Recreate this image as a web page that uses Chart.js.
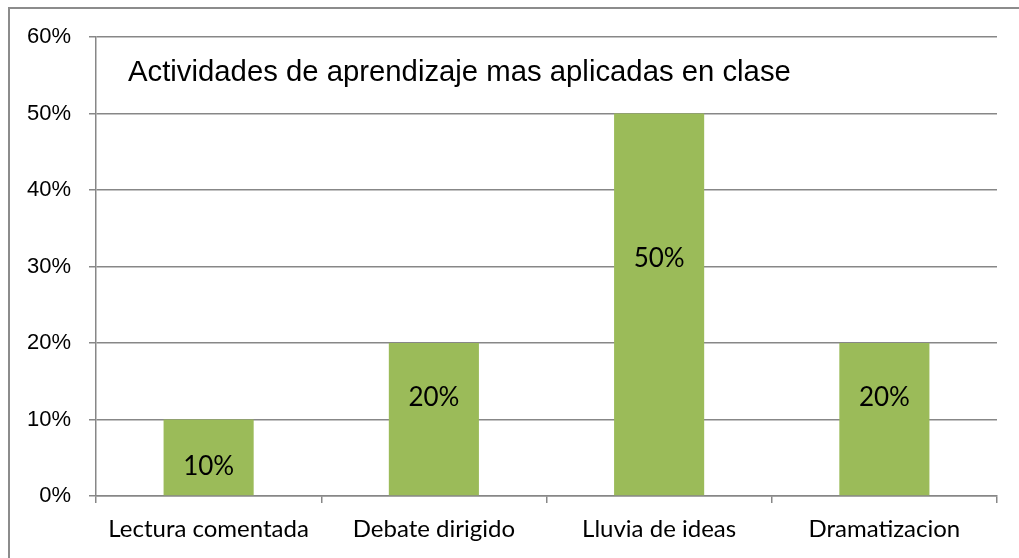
<!DOCTYPE html>
<html>
<head>
<meta charset="utf-8">
<script src="https://cdn.jsdelivr.net/npm/chart.js@4"></script>
<style>
html,body{margin:0;padding:0;background:#fff;}
#wrap{position:relative;width:1019px;height:558px;}
</style>
</head>
<body>
<div id="wrap"><canvas id="c" width="1019" height="558"></canvas></div>
<script>
const categories = ["Lectura comentada", "Debate dirigido", "Lluvia de ideas", "Dramatizacion"];
const values = [10, 20, 50, 20];
const yTicks = [0, 10, 20, 30, 40, 50, 60];
const chartTitle = "Actividades de aprendizaje mas aplicadas en clase";

const GRID = '#878787';

const decor = {
  id: 'decor',
  beforeDraw(chart) {
    const ctx = chart.ctx;
    ctx.save();
    ctx.fillStyle = '#fff';
    ctx.fillRect(0, 0, chart.width, chart.height);
    ctx.strokeStyle = '#8c8c8c';
    ctx.lineWidth = 2;
    ctx.beginPath();
    ctx.moveTo(9, chart.height + 5);
    ctx.lineTo(9, 8);
    ctx.lineTo(chart.width + 5, 8);
    ctx.stroke();
    ctx.restore();
  },
  afterDatasetsDraw(chart, args, opts) {
    const ctx = chart.ctx;
    const meta = chart.getDatasetMeta(0);
    const y = chart.scales.y;
    ctx.save();
    ctx.fillStyle = '#000';
    ctx.font = '26px Lato, "Open Sans", sans-serif';
    ctx.textAlign = 'center';
    ctx.textBaseline = 'middle';
    meta.data.forEach((bar, i) => {
      const v = values[i];
      const yy = y.getPixelForValue(v * opts.fractions[i]);
      ctx.fillText(v + '%', bar.x, yy);
    });
    // title
    const area = chart.chartArea;
    ctx.font = '29.3px "Liberation Sans", Arial, sans-serif';
    ctx.textAlign = 'left';
    ctx.textBaseline = 'alphabetic';
    ctx.fillText(chartTitle, area.left + 32, area.top + 44);
    ctx.restore();
  }
};

new Chart(document.getElementById('c'), {
  type: 'bar',
  data: {
    labels: categories,
    datasets: [{
      data: values,
      backgroundColor: '#9BBB59',
      borderWidth: 0,
      barPercentage: 0.4,
      categoryPercentage: 1.0
    }]
  },
  options: {
    responsive: false,
    animation: false,
    devicePixelRatio: 1,
    layout: { padding: { left: 0, right: 22, top: 37, bottom: 0 } },
    plugins: {
      legend: { display: false },
      tooltip: { enabled: false },
      decor: { fractions: [0.39, 0.64, 0.62, 0.64] }
    },
    scales: {
      x: {
        afterFit(s) { s.height = 62; },
        grid: { display: true, drawOnChartArea: false, drawTicks: true, tickLength: 7, color: GRID, lineWidth: 1.5, offset: true },
        border: { display: true, color: GRID, width: 1.5 },
        ticks: { color: '#000', font: { family: 'Lato, "Open Sans", sans-serif', size: 24 }, padding: 12, maxRotation: 0 }
      },
      y: {
        min: 0, max: 60,
        afterFit(s) { s.width = 96; },
        afterBuildTicks(s) { s.ticks = yTicks.map(v => ({ value: v })); },
        grid: { color: GRID, lineWidth: 1.5, tickLength: 7, drawTicks: true },
        border: { display: true, color: GRID, width: 1.5 },
        ticks: { color: '#000', font: { family: '"Liberation Sans", Arial, sans-serif', size: 22 }, padding: 18, callback: v => v + '%' }
      }
    }
  },
  plugins: [decor]
});
</script>
</body>
</html>
